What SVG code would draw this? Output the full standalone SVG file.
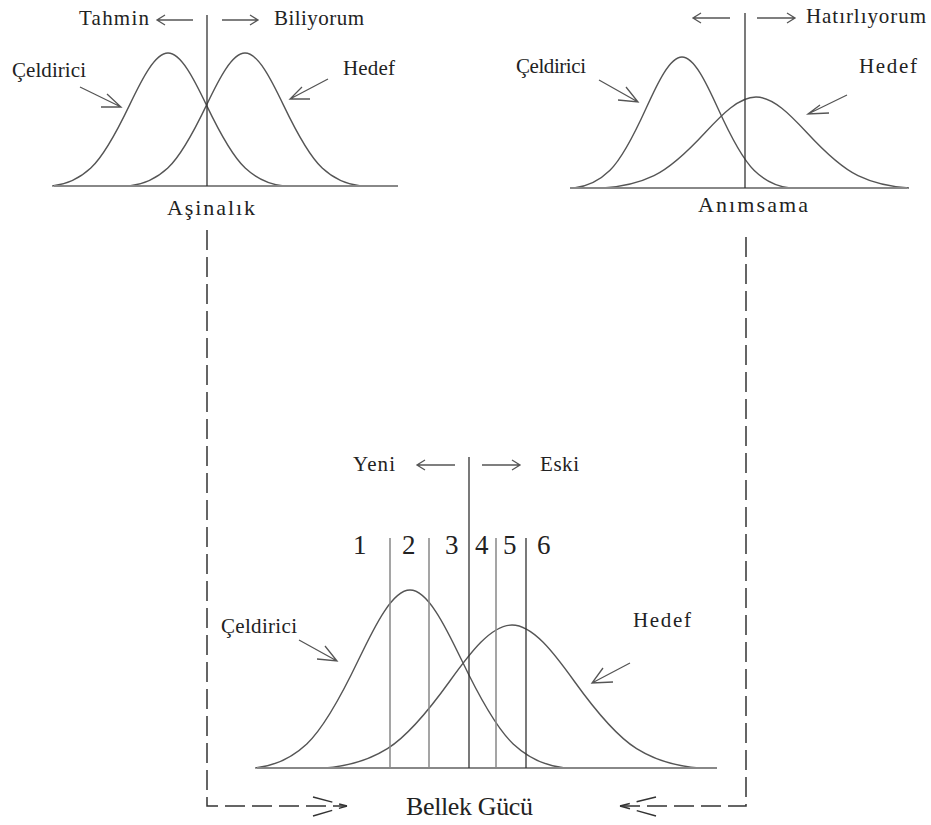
<svg xmlns="http://www.w3.org/2000/svg" width="931" height="825" viewBox="0 0 931 825">
<style>
  text { font-family: "Liberation Serif", "Times New Roman", serif; fill: #222; }
  .lbl { font-size: 21px; }
  .ttl { font-size: 22px; }
  .num { font-size: 27px; }
  .big { font-size: 26px; }
  .curve { fill: none; stroke: #555; stroke-width: 1.4; }
  .base { fill: none; stroke: #888; stroke-width: 2.2; }
  .vl { fill: none; stroke: #333; stroke-width: 1.3; }
  .vg { fill: none; stroke: #888; stroke-width: 1.5; }
  .ar { fill: none; stroke: #555; stroke-width: 1.3; }
  .dash { fill: none; stroke: #333; stroke-width: 1.5; stroke-dasharray: 20 7; }
</style>
<defs>
  <path id="g" vector-effect="non-scaling-stroke" d="M-3,0 C-2.6667,0.011 -2.3333,0.0451 -2,0.1353 C-1.6667,0.2255 -1.3333,0.4043 -1,0.6065 C-0.6667,0.8087 -0.3333,1 0,1 C0.3333,1 0.6667,0.8087 1,0.6065 C1.3333,0.4043 1.6667,0.2255 2,0.1353 C2.3333,0.0451 2.6667,0.011 3,0"/>
</defs>
<rect width="931" height="825" fill="#fff"/>

<g id="asinalik">
  <use href="#g" class="curve" transform="translate(168,186) scale(38.6,-133)"/>
  <use href="#g" class="curve" transform="translate(245,186) scale(38.6,-133)"/>
  <path class="base" d="M54,186 H398"/>
  <path class="vl" d="M207,15 V186"/>
  <path class="ar" d="M193,20 H157 M165,15 L157,20 L165,25"/>
  <path class="ar" d="M222,20 H258 M250,15 L258,20 L250,25"/>
  <text class="lbl" x="79" y="25" textLength="70">Tahmin</text>
  <text class="lbl" x="274" y="25" textLength="90">Biliyorum</text>
  <text class="lbl" x="12" y="77" textLength="74">Çeldirici</text>
  <path class="ar" d="M80,87 L121,107 M107,94 L121,107 L101,107"/>
  <text class="lbl" x="343" y="75" textLength="52">Hedef</text>
  <path class="ar" d="M328,79 L290,99 M302,87 L290,99 L310,99"/>
  <text class="ttl" x="167" y="215" textLength="88">Aşinalık</text>
</g>

<g id="animsama">
  <use href="#g" class="curve" transform="translate(682,188) scale(36,-131)"/>
  <use href="#g" class="curve" transform="translate(756,188) scale(51,-91)"/>
  <path class="base" d="M570,188 H907"/>
  <path class="vl" d="M745,13 V188"/>
  <path class="ar" d="M730,18 H693 M701,13 L693,18 L701,23"/>
  <path class="ar" d="M757,18 H795 M787,13 L795,18 L787,23"/>
  <text class="lbl" x="806" y="23" textLength="120">Hatırlıyorum</text>
  <text class="lbl" x="516" y="73" textLength="70">Çeldirici</text>
  <path class="ar" d="M599,80 L638,102 M626,87 L638,102 L618,100"/>
  <text class="lbl" x="859" y="73" textLength="58">Hedef</text>
  <path class="ar" d="M847,95 L808,114 M820,105 L808,114 L829,113"/>
  <text class="ttl" x="698" y="212" textLength="110">Anımsama</text>
</g>

<g id="bellek">
  <use href="#g" class="curve" transform="translate(410,768) scale(51.6,-178)"/>
  <use href="#g" class="curve" transform="translate(512,768) scale(62.3,-143)"/>
  <path class="base" d="M257,768 H717"/>
  <path class="vg" d="M390,538 V768 M429,538 V768 M496,538 V768"/>
  <path class="vl" d="M469,457 V768 M526,538 V768"/>
  <text class="lbl" x="353" y="471" textLength="42">Yeni</text>
  <path class="ar" d="M455,465 H417 M425,460 L417,465 L425,470"/>
  <path class="ar" d="M482,465 H520 M512,460 L520,465 L512,470"/>
  <text class="lbl" x="540" y="471" textLength="39">Eski</text>
  <text class="num" x="353" y="554">1</text>
  <text class="num" x="402" y="554">2</text>
  <text class="num" x="445" y="554">3</text>
  <text class="num" x="475" y="554">4</text>
  <text class="num" x="503" y="554">5</text>
  <text class="num" x="537" y="554">6</text>
  <text class="lbl" x="221" y="633" textLength="76">Çeldirici</text>
  <path class="ar" d="M299,640 L337,661 M325,646 L337,661 L317,659"/>
  <text class="lbl" x="633" y="627" textLength="58">Hedef</text>
  <path class="ar" d="M630,663 L592,683 M603,668 L592,683 L613,682"/>
</g>

<g id="bellek-gucu">
  <text class="big" x="406" y="815" textLength="127">Bellek Gücü</text>
</g>

<g id="connectors">
  <path class="dash" d="M207,230 V806 H347"/>
  <path class="dash" d="M313,797 L347,806 M313,816 L347,806"/>
  <path class="dash" d="M746,237 V806 H620"/>
  <path class="dash" d="M656,797 L620,806 M656,816 L620,806"/>
</g>
</svg>
